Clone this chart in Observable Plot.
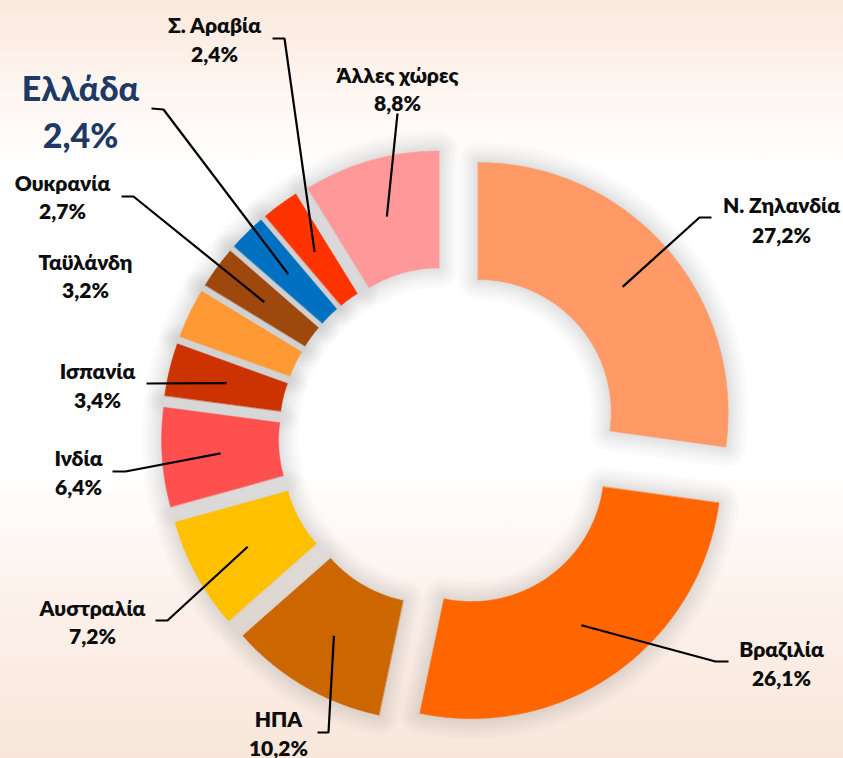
<!DOCTYPE html>
<html>
<head>
<meta charset="utf-8">
<script src="https://cdn.jsdelivr.net/npm/d3@7"></script>
<script src="https://cdn.jsdelivr.net/npm/@observablehq/plot@0.6"></script>
<style>
  html, body { margin: 0; padding: 0; }
  body {
    width: 843px; height: 758px; overflow: hidden;
    background: linear-gradient(to bottom, #fbe8dc 0%, #fdf4ee 10%, #ffffff 22%, #ffffff 62%, #fcf1ea 80%, #f8e6da 100%);
    font-family: Lato, "Noto Sans", sans-serif;
  }
</style>
</head>
<body>
<div id="chart"></div>
<script>
// ---- data ----
const countries = ["Ν. Ζηλανδία", "Βραζιλία", "ΗΠΑ", "Αυστραλία", "Ινδία", "Ισπανία", "Ταϋλάνδη", "Ουκρανία", "Ελλάδα", "Σ. Αραβία", "Άλλες χώρες"];
const shares = [27.2, 26.1, 10.2, 7.2, 6.4, 3.4, 3.2, 2.7, 2.4, 2.4, 8.8];

// ---- styles ----
const colors = ["#FF9966", "#FF6600", "#CC6600", "#FFC000", "#FF5050", "#CC3300", "#FF9933", "#9E480E", "#0070C0", "#FF3300", "#FF9999"];
const shadowWidths = [40, 33, 27, 21, 16, 11, 7, 3];

// ---- layout (pixels) ----
const center = [449, 437];
const outerR = 250, innerR = 133, explode = 38;
const labelX = [781, 781, 278, 92, 78, 97, 85, 62, 80, 214, 397];
const labelY = [212, 656, 726, 615, 465, 378, 269, 190, 100, 32, 82];
const lineGap = [30, 29, 29, 28, 29, 29, 28, 28, 47, 29, 28];
const leaderElbow = [[699,217],[715,661],[328,732],[167,620],[125,471],null,null,[133,196],[163,109],[284,38],null];
const leaderEnd   = [[711,217],[728,661],[317,732],[155,620],[112,471],[146,383],null,[121,196],[151,108],[272,38],[397,113]];

const total = d3.sum(shares);
const fmt = v => v.toFixed(1).replace(".", ",") + "%";

const slices = [];
const leaders = [];
let acc = 0;
shares.forEach((v, i) => {
  const a0 = acc / total * 2 * Math.PI;
  acc += v;
  const a1 = acc / total * 2 * Math.PI;
  const am = (a0 + a1) / 2;
  const cx = center[0] + explode * Math.sin(am);
  const cy = center[1] - explode * Math.cos(am);
  const n = Math.max(4, Math.ceil((a1 - a0) / 0.01));
  const pts = [];
  for (let k = 0; k <= n; k++) { const a = a0 + (a1 - a0) * k / n; pts.push({x: cx + outerR * Math.sin(a), y: cy - outerR * Math.cos(a)}); }
  for (let k = n; k >= 0; k--) { const a = a0 + (a1 - a0) * k / n; pts.push({x: cx + innerR * Math.sin(a), y: cy - innerR * Math.cos(a)}); }
  slices.push(pts);
  if (leaderEnd[i]) {
    const rm = (outerR + innerR) / 2;
    leaders.push({i, x: cx + rm * Math.sin(am), y: cy - rm * Math.cos(am)});
    if (leaderElbow[i]) leaders.push({i, x: leaderElbow[i][0], y: leaderElbow[i][1]});
    leaders.push({i, x: leaderEnd[i][0], y: leaderEnd[i][1]});
  }
});

const labels = [];
countries.forEach((c, i) => {
  const big = c === "Ελλάδα";
  const fs = big ? 34 : 21;
  labels.push({text: c, x: labelX[i], y: labelY[i] - 0.32 * fs, big});
  labels.push({text: fmt(shares[i]), x: labelX[i], y: labelY[i] + lineGap[i] - 0.32 * fs, big});
});

const svg = Plot.plot({
  width: 843,
  height: 758,
  margin: 0,
  style: {background: "transparent"},
  x: {type: "identity", axis: null},
  y: {type: "identity", axis: null},
  marks: [
    // soft grey halo (stacked translucent outlines)
    ...shadowWidths.flatMap(w => slices.map(pts => Plot.line(pts, {x: "x", y: "y", fill: "none", stroke: "#808080", strokeOpacity: 0.035, strokeWidth: w, strokeLinejoin: "round", curve: "linear-closed"}))),
    ...slices.map((pts, i) => Plot.line(pts, {x: "x", y: "y", fill: colors[i], stroke: colors[i], strokeWidth: 0.5, curve: "linear-closed"})),
    Plot.line(leaders, {x: "x", y: "y", z: "i", stroke: "#000", strokeWidth: 2.2, strokeLinecap: "butt", strokeLinejoin: "miter", curve: "linear"}),
    Plot.text(labels.filter(d => !d.big), {x: "x", y: "y", text: "text", fill: "#0d0d0d", fontSize: 21, fontWeight: 800, fontFamily: "Lato, 'Noto Sans', sans-serif", textAnchor: "middle"}),
    Plot.text(labels.filter(d => d.big), {x: "x", y: "y", text: "text", fill: "#203864", fontSize: 34, fontWeight: 900, fontFamily: "Lato, 'Noto Sans', sans-serif", textAnchor: "middle", stroke: "#ffffff", strokeWidth: 1.5, strokeOpacity: 0.6})
  ]
});

document.getElementById("chart").appendChild(svg);
</script>
</body>
</html>
